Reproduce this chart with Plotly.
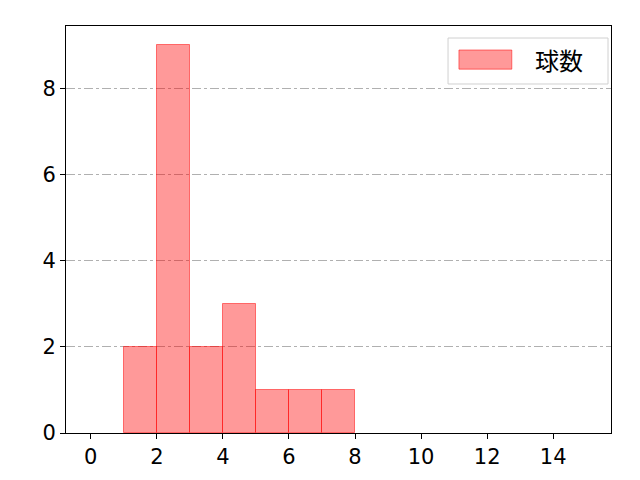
import plotly.graph_objects as go

bin_left = [1, 2, 3, 4, 5, 6, 7]
counts = [2, 9, 2, 3, 1, 1, 1]
series_name = "球数"
x_ticks = [0, 2, 4, 6, 8, 10, 12, 14]
y_ticks = [0, 2, 4, 6, 8]

centers = [b + 0.5 for b in bin_left]
fill = "rgba(255,0,0,0.4)"
edge = "rgba(255,0,0,0.5)"

fig = go.Figure()
fig.add_trace(go.Bar(
    x=centers, y=counts, width=1, name=series_name,
    marker=dict(color=fill, line=dict(color=edge, width=1)),
    showlegend=False,
))

cjk = "Noto Sans CJK JP, sans-serif"
tickfont = dict(family="DejaVu Sans, sans-serif", size=21, color="black")
# manual matplotlib-like legend
fig.add_shape(type="rect", xref="paper", yref="paper", x0=0.701, x1=0.9945, y0=0.8575, y1=0.9705,
              line=dict(color="#d0d0d0", width=1), fillcolor="white", layer="above")
fig.add_shape(type="rect", xref="paper", yref="paper", x0=0.721, x1=0.818, y0=0.894, y1=0.941,
              line=dict(color=edge, width=1), fillcolor=fill, layer="above")
fig.add_annotation(xref="paper", yref="paper", x=0.856, y=0.918, xanchor="left", yanchor="middle",
                   text=series_name, showarrow=False, font=dict(size=24, family=cjk, color="black"))

fig.update_layout(
    width=633, height=473,
    margin=dict(l=58, r=30, t=18, b=48),
    plot_bgcolor="white", paper_bgcolor="white",
    font=dict(family=cjk, size=20, color="black"),
    bargap=0,
    showlegend=False,
    xaxis=dict(range=[-0.75, 15.75], tickvals=x_ticks, showgrid=False, zeroline=False,
               showline=True, linecolor="black", linewidth=1, mirror=True, tickfont=tickfont,
               ticks="outside", ticklen=5, tickcolor="black", automargin=False),
    yaxis=dict(range=[0, 9.45], tickvals=y_ticks, showgrid=True, gridcolor="#b0b0b0",
               griddash="dashdot", gridwidth=1, zeroline=False, tickfont=tickfont,
               showline=True, linecolor="black", linewidth=1, mirror=True,
               ticks="outside", ticklen=5, tickcolor="black", automargin=False),
)
fig.write_html("out.html")
